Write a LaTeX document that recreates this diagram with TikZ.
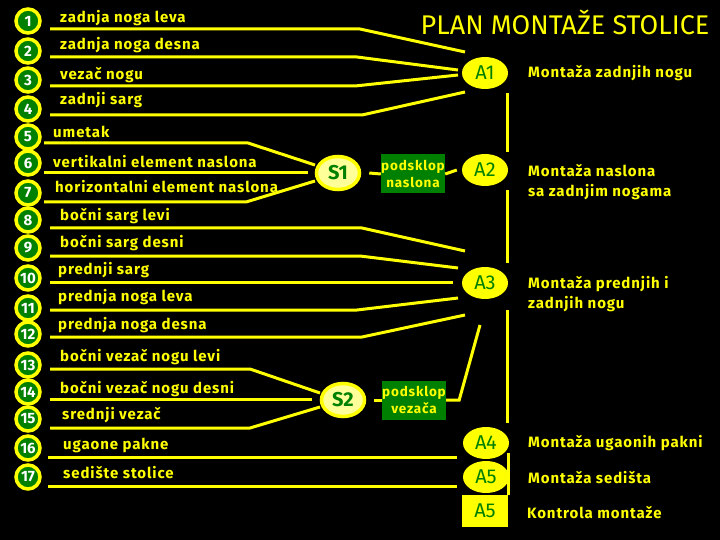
\documentclass[tikz,border=0pt]{standalone}
\usepackage{fontspec}
\setmainfont{Fira Sans}
\newfontfamily\widefont{Fira Sans}[LetterSpace=6]
\usetikzlibrary{shapes.geometric}
\definecolor{yel}{HTML}{FFFF00}
\definecolor{grn}{HTML}{008000}
\definecolor{pale}{HTML}{FFFF99}
\tikzset{
 num/.style={circle, draw=yel, line width=3.5pt, fill=grn, minimum size=24pt, inner sep=0pt, text=white, font=\bfseries\fontsize{15}{15}\selectfont},
 lbl/.style={anchor=west, text=yel, inner sep=0pt, font=\widefont\bfseries\fontsize{15}{16}\selectfont},
 ln/.style={draw=yel, line width=3pt},
 aell/.style={ellipse, fill=yel, minimum width=46pt, minimum height=32pt, inner sep=0pt, text=grn, font=\fontsize{20}{20}\selectfont},
 aboxst/.style={rectangle, fill=yel, minimum width=46pt, minimum height=32pt, inner sep=0pt, text=grn, font=\fontsize{20}{20}\selectfont},
 sell/.style={ellipse, fill=pale, draw=yel, line width=3.5pt, minimum width=43pt, minimum height=33pt, inner sep=0pt, text=grn, font=\bfseries\fontsize{20}{20}\selectfont},
 gbox/.style={rectangle, fill=grn, text=yel, align=center, inner sep=0pt, minimum width=64pt, minimum height=39pt, font=\widefont\bfseries\fontsize{13.5}{17}\selectfont},
 desc/.style={anchor=west, text=yel, align=left, inner sep=0pt, font=\widefont\bfseries\fontsize{15}{20}\selectfont},
}
\begin{document}
\begin{tikzpicture}[x=1pt,y=-1pt]
\fill[black] (0,0) rectangle (720,540);
\useasboundingbox (0,0) rectangle (720,540);
% numbered circles
\foreach \k/\yy in {1/21,2/51,3/80,4/109,5/137,6/163,7/193,8/220,9/248,10/278,11/308,12/334,13/365,14/392,15/419,16/448,17/477}
  \node[num] (n\k) at (28,\yy) {\k};
% labels
\node[lbl] (t1) at (60,18) {zadnja noga leva};
\node[lbl] (t2) at (60,45) {zadnja noga desna};
\node[lbl] (t3) at (60,75) {vezač nogu};
\node[lbl] (t4) at (60,100) {zadnji sarg};
\node[lbl] (t5) at (53,132) {umetak};
\node[lbl] (t6) at (53,162) {vertikalni element naslona};
\node[lbl] (t7) at (55,187) {horizontalni element naslona};
\node[lbl] (t8) at (60,216) {bočni sarg levi};
\node[lbl] (t9) at (60,243) {bočni sarg desni};
\node[lbl] (t10) at (58,270) {prednji sarg};
\node[lbl] (t11) at (58,297) {prednja noga leva};
\node[lbl] (t12) at (58,325) {prednja noga desna};
\node[lbl] (t13) at (60,357) {bočni vezač nogu levi};
\node[lbl] (t14) at (60,389) {bočni vezač nogu desni};
\node[lbl] (t15) at (62,415) {srednji vezač};
\node[lbl] (t16) at (63,445) {ugaone pakne};
\node[lbl] (t17) at (63,473) {sedište stolice};
% title
\node[text=yel, font=\fontsize{27}{27}\selectfont] (title) at (565,22) {PLAN MONTAŽE STOLICE};
% assembly nodes
\node[aell] (A1) at (485,73) {A1};
\node[sell] (S1) at (338,173) {S1};
\node[gbox] (P1) at (413,174) {podsklop\\naslona};
\node[aell] (A2) at (485,170) {A2};
\node[aell] (A3) at (485,283) {A3};
\node[sell] (S2) at (343,400) {S2};
\node[gbox] (P2) at (414,400) {podsklop\\vezača};
\node[aell] (A4) at (486,443) {A4};
\node[aell] (A5) at (486,477) {A5};
\node[aboxst] (A6) at (485,511) {A5};
% descriptions
\node[desc] (d1) at (528,73) {Montaža zadnjih nogu};
\node[desc] (d2) at (528,182) {Montaža naslona\\sa zadnjim nogama};
\node[desc] (d3) at (528,294) {Montaža prednjih i\\zadnjih nogu};
\node[desc] (d4) at (528,443) {Montaža ugaonih pakni};
\node[desc] (d5) at (528,478) {Montaža sedišta};
\node[desc] (d6) at (527,513) {Kontrola montaže};
% underline connectors
\draw[ln] (50,29) -- (360,29) -- (465,52);
\draw[ln] (50,57) -- (357,57) -- (458,70);
\draw[ln] (50,86) -- (355,86) -- (458,75);
\draw[ln] (50,115) -- (362,115) -- (465,92);
\draw[ln] (44,143) -- (248,143) -- (315,165);
\draw[ln] (44,173) -- (308,173);
\draw[ln] (44,202) -- (246,202) -- (315,181);
\draw[ln] (50,228) -- (362,228) -- (465,251);
\draw[ln] (50,256) -- (360,256) -- (458,268);
\draw[ln] (50,282) -- (453,282);
\draw[ln] (50,310) -- (357,310) -- (458,298);
\draw[ln] (50,337) -- (362,337) -- (465,315);
\draw[ln] (50,369) -- (250,369) -- (320,393);
\draw[ln] (50,399) -- (312,399);
\draw[ln] (50,428) -- (250,428) -- (320,407);
\draw[ln] (48,457) -- (457,457);
\draw[ln] (48,486) -- (457,486);
% subassembly connectors
\draw[ln] ([xshift=8pt]S1.east) -- (P1.west);
\draw[ln] (P1.east) -- ([xshift=-5pt]A2.west);
\draw[ln] ([xshift=8pt]S2.east) -- (P2.west);
\draw[ln] (P2.east) -- ++(13,0) -- (480,325);
% main sequence line
\draw[ln] (507,93) -- (507,152);
\draw[ln] (507,190) -- (507,263);
\draw[ln] (507,310) -- (507,423);
\draw[ln] (508,453) -- (508,495);
\end{tikzpicture}
\end{document}
